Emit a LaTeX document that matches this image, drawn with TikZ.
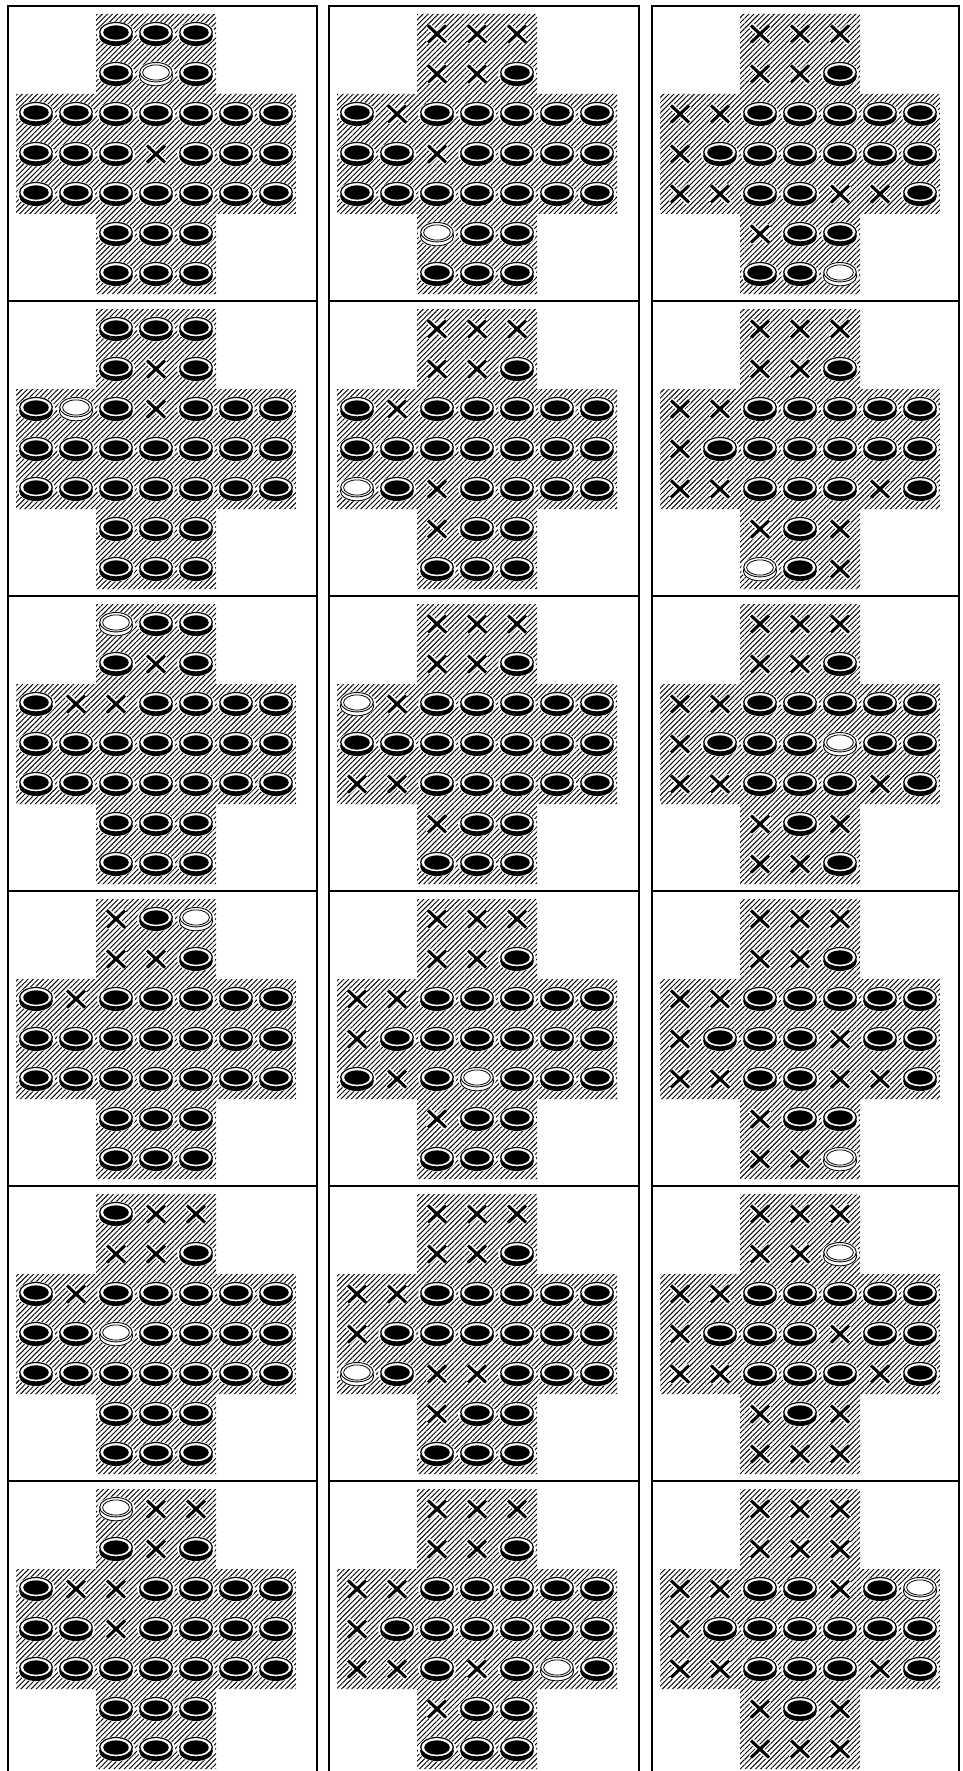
\documentclass[tikz,border=0pt]{standalone}
\usetikzlibrary{patterns.meta}
\tikzset{
  frame/.style={draw=black,line width=1.4pt},
  hatch/.style={pattern={Lines[angle=45,distance=3.6pt,line width=0.95pt]},pattern color=black},
}
\newcommand\itemP[2]{%
  \fill[white] (#1,#2) ellipse [x radius=19, y radius=12.5];
  \fill[black] (#1,#2+2) ellipse [x radius=16.9, y radius=10];
  \filldraw[fill=white,draw=black,line width=1.2pt] (#1,#2-1.8) ellipse [x radius=16.3, y radius=9.7];
  \fill[black] (#1,#2-1.5) ellipse [x radius=12.8, y radius=7.2];
}
\newcommand\itemO[2]{%
  \fill[white] (#1,#2) ellipse [x radius=19, y radius=12.5];
  \filldraw[fill=white,draw=black,line width=0.9pt] (#1,#2+2) ellipse [x radius=16.7, y radius=9.8];
  \filldraw[fill=white,draw=black,line width=0.9pt] (#1,#2-1.8) ellipse [x radius=16.3, y radius=9.7];
  \draw[black,line width=0.8pt] (#1,#2-1.5) ellipse [x radius=13.4, y radius=7.6];
}
\newcommand\itemX[2]{%
  \draw[white,line width=6pt] (#1-9,#2-8.5) -- (#1+9,#2+8.5) (#1-9,#2+8.5) -- (#1+9,#2-8.5);
  \draw[black,line width=3.1pt] (#1-9,#2-8.5) -- (#1+9,#2+8.5) (#1-9,#2+8.5) -- (#1+9,#2-8.5);
}
\newcommand\boardrow[3]{%
  \foreach \s [count=\k from 0] in {#3}{%
    \pgfmathsetmacro\cx{(#2+\k)*40+20}%
    \pgfmathsetmacro\cy{#1*40+20}%
    \csname item\s\endcsname{\cx}{\cy}%
  }%
}
\newcommand\board[9]{%
  \begin{scope}[shift={(#1,#2)}]
    \fill[hatch] (80,0) -- (200,0) -- (200,80) -- (280,80) -- (280,200) -- (200,200)
      -- (200,280) -- (80,280) -- (80,200) -- (0,200) -- (0,80) -- (80,80) -- cycle;
    \boardrow{0}{2}{#3}
    \boardrow{1}{2}{#4}
    \boardrow{2}{0}{#5}
    \boardrow{3}{0}{#6}
    \boardrow{4}{0}{#7}
    \boardrow{5}{2}{#8}
    \boardrow{6}{2}{#9}
  \end{scope}
}
\begin{document}
\begin{tikzpicture}[x=1pt,y=-1pt]
\useasboundingbox (0,0) rectangle (962,1771);
\clip (0,0) rectangle (962,1771);
\fill[white] (0,0) rectangle (962,1771);
% frames
\foreach \r in {0,...,5}{
  \pgfmathsetmacro\ft{6+295*\r}
  \pgfmathsetmacro\fb{6+295*(\r+1)}
  \draw[frame] (8,\ft) rectangle (317,\fb);
  \draw[frame] (329,\ft) rectangle (639,\fb);
  \draw[frame] (652,\ft) rectangle (959,\fb);
}
% row 1
\board{16}{14}{P,P,P}{P,O,P}{P,P,P,P,P,P,P}{P,P,P,X,P,P,P}{P,P,P,P,P,P,P}{P,P,P}{P,P,P}
\board{337}{14}{X,X,X}{X,X,P}{P,X,P,P,P,P,P}{P,P,X,P,P,P,P}{P,P,P,P,P,P,P}{O,P,P}{P,P,P}
\board{660}{14}{X,X,X}{X,X,P}{X,X,P,P,P,P,P}{X,P,P,P,P,P,P}{X,X,P,P,X,X,P}{X,P,P}{P,P,O}
% row 2
\board{16}{309}{P,P,P}{P,X,P}{P,O,P,X,P,P,P}{P,P,P,P,P,P,P}{P,P,P,P,P,P,P}{P,P,P}{P,P,P}
\board{337}{309}{X,X,X}{X,X,P}{P,X,P,P,P,P,P}{P,P,P,P,P,P,P}{O,P,X,P,P,P,P}{X,P,P}{P,P,P}
\board{660}{309}{X,X,X}{X,X,P}{X,X,P,P,P,P,P}{X,P,P,P,P,P,P}{X,X,P,P,P,X,P}{X,P,X}{O,P,X}
% row 3
\board{16}{604}{O,P,P}{P,X,P}{P,X,X,P,P,P,P}{P,P,P,P,P,P,P}{P,P,P,P,P,P,P}{P,P,P}{P,P,P}
\board{337}{604}{X,X,X}{X,X,P}{O,X,P,P,P,P,P}{P,P,P,P,P,P,P}{X,X,P,P,P,P,P}{X,P,P}{P,P,P}
\board{660}{604}{X,X,X}{X,X,P}{X,X,P,P,P,P,P}{X,P,P,P,O,P,P}{X,X,P,P,P,X,P}{X,P,X}{X,X,P}
% row 4
\board{16}{899}{X,P,O}{X,X,P}{P,X,P,P,P,P,P}{P,P,P,P,P,P,P}{P,P,P,P,P,P,P}{P,P,P}{P,P,P}
\board{337}{899}{X,X,X}{X,X,P}{X,X,P,P,P,P,P}{X,P,P,P,P,P,P}{P,X,P,O,P,P,P}{X,P,P}{P,P,P}
\board{660}{899}{X,X,X}{X,X,P}{X,X,P,P,P,P,P}{X,P,P,P,X,P,P}{X,X,P,P,X,X,P}{X,P,P}{X,X,O}
% row 5
\board{16}{1194}{P,X,X}{X,X,P}{P,X,P,P,P,P,P}{P,P,O,P,P,P,P}{P,P,P,P,P,P,P}{P,P,P}{P,P,P}
\board{337}{1194}{X,X,X}{X,X,P}{X,X,P,P,P,P,P}{X,P,P,P,P,P,P}{O,P,X,X,P,P,P}{X,P,P}{P,P,P}
\board{660}{1194}{X,X,X}{X,X,O}{X,X,P,P,P,P,P}{X,P,P,P,X,P,P}{X,X,P,P,P,X,P}{X,P,X}{X,X,X}
% row 6
\board{16}{1489}{O,X,X}{P,X,P}{P,X,X,P,P,P,P}{P,P,X,P,P,P,P}{P,P,P,P,P,P,P}{P,P,P}{P,P,P}
\board{337}{1489}{X,X,X}{X,X,P}{X,X,P,P,P,P,P}{X,P,P,P,P,P,P}{X,X,P,X,P,O,P}{X,P,P}{P,P,P}
\board{660}{1489}{X,X,X}{X,X,X}{X,X,P,P,X,P,O}{X,P,P,P,P,P,P}{X,X,P,P,P,X,P}{X,P,X}{X,X,X}
\end{tikzpicture}
\end{document}
